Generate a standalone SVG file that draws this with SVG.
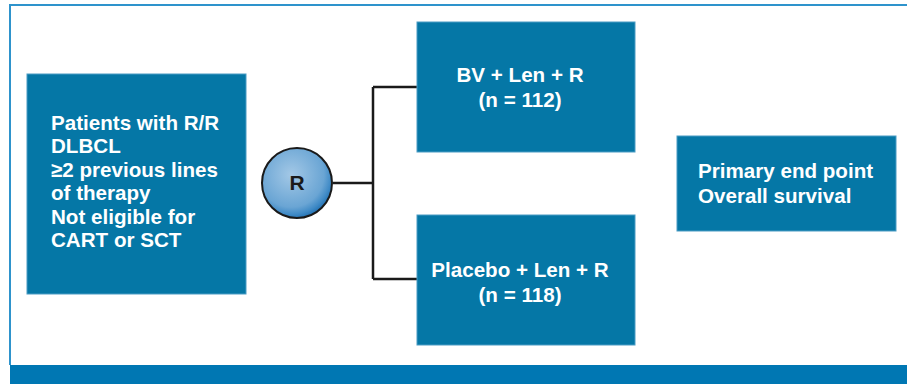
<svg xmlns="http://www.w3.org/2000/svg" width="907" height="384" viewBox="0 0 907 384">
<defs>
<style>
.box{fill:#0577a6;stroke:#4a9cc4;stroke-width:1}
.t{font-family:"Liberation Sans",Arial,sans-serif;font-weight:bold;font-size:20.6px;fill:#ffffff}
.c{text-anchor:middle}
.conn{fill:none;stroke:#1a1a1a;stroke-width:2.5}
</style>
<radialGradient id="g" cx="0.42" cy="0.38" r="0.62">
<stop offset="0" stop-color="#a3c8e6"/>
<stop offset="0.75" stop-color="#6aa5d4"/>
<stop offset="0.92" stop-color="#3f8ac6"/>
<stop offset="1" stop-color="#2a78b8"/>
</radialGradient>
</defs>
<rect x="0" y="0" width="907" height="384" fill="#ffffff"/>
<path d="M10 365 V5 H907" fill="none" stroke="#2e93cc" stroke-width="2"/>
<rect x="10" y="365" width="897" height="19" fill="#0077b3"/>
<g id="connectors">
<path class="conn" d="M333 183 H373 M373 87 V279 M373 87 H417 M373 279 H417"/>
</g>
<g id="patients">
<rect class="box" x="27" y="74" width="219" height="220"/>
<text class="t" x="51" y="130">Patients with R/R</text>
<text class="t" x="51" y="153">DLBCL</text>
<text class="t" x="51" y="177">≥2 previous lines</text>
<text class="t" x="51" y="200">of therapy</text>
<text class="t" x="51" y="224">Not eligible for</text>
<text class="t" x="51" y="247">CART or SCT</text>
</g>
<g id="randomize">
<circle cx="297" cy="183" r="35" fill="url(#g)" stroke="#1a1a1a" stroke-width="2"/>
<text x="297" y="190" text-anchor="middle" font-family="Liberation Sans,Arial,sans-serif" font-weight="bold" font-size="21" fill="#1a1a1a">R</text>
</g>
<g id="arm1">
<rect class="box" x="417" y="22" width="218" height="130"/>
<text class="t c" x="520" y="82">BV + Len + R</text>
<text class="t c" x="520" y="107">(n = 112)</text>
</g>
<g id="arm2">
<rect class="box" x="417" y="215" width="218" height="130"/>
<text class="t c" x="520" y="277">Placebo + Len + R</text>
<text class="t c" x="520" y="302">(n = 118)</text>
</g>
<g id="endpoint">
<rect class="box" x="677" y="136" width="219" height="95"/>
<text class="t" x="698" y="178">Primary end point</text>
<text class="t" x="698" y="203">Overall survival</text>
</g>
</svg>
